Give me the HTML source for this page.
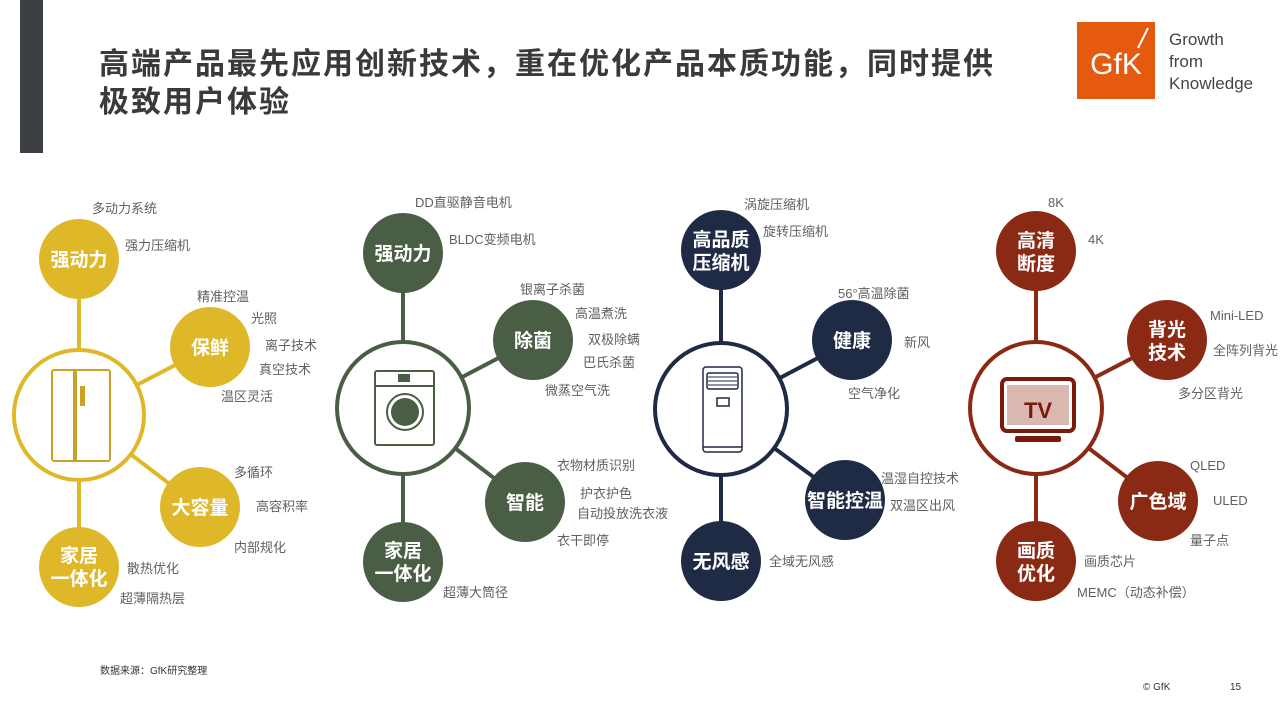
<!DOCTYPE html>
<html><head><meta charset="utf-8"><style>
body{margin:0;width:1280px;height:720px;overflow:hidden;background:#fff;font-family:"Liberation Sans","Noto Sans CJK SC",sans-serif;}
svg{position:absolute;left:0;top:0}
.n{font-weight:bold;fill:#fff;font-size:19px;text-anchor:middle}
.l{fill:#606060;font-size:13px}
</style></head><body>
<svg width="1280" height="720" viewBox="0 0 1280 720" font-family="Liberation Sans, Noto Sans CJK SC, sans-serif">
<rect x="20" y="0" width="23" height="153" fill="#3c3f44"/>
<text x="99" y="74" font-size="30" letter-spacing="2" font-weight="bold" fill="#3a3a3a">高端产品最先应用创新技术，重在优化产品本质功能，同时提供</text>
<text x="99" y="112" font-size="30" letter-spacing="2" font-weight="bold" fill="#3a3a3a">极致用户体验</text>
<!-- logo -->
<rect x="1077" y="22" width="78" height="77" fill="#E55A0E"/>
<text x="1116" y="74" font-size="30" fill="#fff" text-anchor="middle" font-family="Liberation Sans, sans-serif">GfK</text>
<line x1="1138" y1="48" x2="1148" y2="28" stroke="#fff" stroke-width="2"/>
<text x="1169" y="45" font-size="17" fill="#444">Growth</text>
<text x="1169" y="67" font-size="17" fill="#444">from</text>
<text x="1169" y="89" font-size="17" fill="#444">Knowledge</text>

<!-- Group 1 gold -->
<g stroke="#DFB82A" stroke-width="4" fill="none">
<line x1="79" y1="280" x2="79" y2="560"/>
<line x1="79" y1="415" x2="210" y2="347"/>
<line x1="79" y1="415" x2="200" y2="507"/>
<circle cx="79" cy="415" r="65" fill="#fff"/>
</g>
<g fill="#DFB82A"><circle cx="79" cy="259" r="40"/><circle cx="210" cy="347" r="40"/><circle cx="200" cy="507" r="40"/><circle cx="79" cy="567" r="40"/></g>
<g stroke="#C9A227" stroke-width="2" fill="none"><rect x="52" y="370" width="58" height="91" rx="2"/><line x1="74" y1="370" x2="74" y2="461"/><line x1="76" y1="370" x2="76" y2="461"/></g>
<rect x="80" y="386" width="5" height="20" fill="#C9A227"/>
<text class="n" x="79" y="266">强动力</text>
<text class="n" x="210" y="354">保鲜</text>
<text class="n" x="200" y="514">大容量</text>
<text class="n" x="79" y="562">家居</text><text class="n" x="79" y="585">一体化</text>
<g class="l"><text x="92" y="213">多动力系统</text><text x="125" y="250">强力压缩机</text>
<text x="197" y="301">精准控温</text><text x="251" y="323">光照</text><text x="265" y="350">离子技术</text><text x="259" y="374">真空技术</text><text x="221" y="401">温区灵活</text>
<text x="234" y="477">多循环</text><text x="256" y="511">高容积率</text><text x="234" y="552">内部规化</text>
<text x="127" y="573">散热优化</text><text x="120" y="603">超薄隔热层</text></g>

<!-- Group 2 green -->
<g stroke="#4A5E45" stroke-width="4" fill="none">
<line x1="403" y1="270" x2="403" y2="550"/>
<line x1="403" y1="408" x2="533" y2="340"/>
<line x1="403" y1="408" x2="525" y2="502"/>
<circle cx="403" cy="408" r="66" fill="#fff"/>
</g>
<g fill="#4A5E45"><circle cx="403" cy="253" r="40"/><circle cx="533" cy="340" r="40"/><circle cx="525" cy="502" r="40"/><circle cx="403" cy="562" r="40"/></g>
<g stroke="#4A5E45" stroke-width="2" fill="none"><rect x="375" y="371" width="59" height="74" rx="2"/><line x1="375" y1="386" x2="434" y2="386"/><circle cx="405" cy="412" r="18"/></g>
<circle cx="405" cy="412" r="14" fill="#4A5E45"/><rect x="398" y="374" width="12" height="8" fill="#4A5E45"/>
<text class="n" x="403" y="260">强动力</text>
<text class="n" x="533" y="347">除菌</text>
<text class="n" x="525" y="509">智能</text>
<text class="n" x="403" y="557">家居</text><text class="n" x="403" y="580">一体化</text>
<g class="l"><text x="415" y="207">DD直驱静音电机</text><text x="449" y="244">BLDC变频电机</text>
<text x="520" y="294">银离子杀菌</text><text x="575" y="318">高温煮洗</text><text x="588" y="344">双极除螨</text><text x="583" y="367">巴氏杀菌</text><text x="545" y="395">微蒸空气洗</text>
<text x="557" y="470">衣物材质识别</text><text x="580" y="498">护衣护色</text><text x="577" y="518">自动投放洗衣液</text><text x="557" y="545">衣干即停</text>
<text x="443" y="597">超薄大筒径</text></g>

<!-- Group 3 navy -->
<g stroke="#1F2A44" stroke-width="4" fill="none">
<line x1="721" y1="270" x2="721" y2="550"/>
<line x1="721" y1="409" x2="852" y2="340"/>
<line x1="721" y1="409" x2="845" y2="500"/>
<circle cx="721" cy="409" r="66" fill="#fff"/>
</g>
<g fill="#1F2A44"><circle cx="721" cy="250" r="40"/><circle cx="852" cy="340" r="40"/><circle cx="845" cy="500" r="40"/><circle cx="721" cy="561" r="40"/></g>
<g stroke="#1F2A44" stroke-width="1.5" fill="none"><rect x="703" y="367" width="39" height="85" rx="3"/><rect x="707" y="373" width="31" height="16" rx="2"/><rect x="717" y="398" width="12" height="8"/><line x1="703" y1="447" x2="742" y2="447"/></g>
<g stroke="#1F2A44" stroke-width="1"><line x1="708" y1="377" x2="737" y2="377"/><line x1="708" y1="381" x2="737" y2="381"/><line x1="708" y1="385" x2="737" y2="385"/></g>
<text class="n" x="721" y="246">高品质</text><text class="n" x="721" y="269">压缩机</text>
<text class="n" x="852" y="347">健康</text>
<text class="n" x="845" y="507">智能控温</text>
<text class="n" x="721" y="568">无风感</text>
<g class="l"><text x="744" y="209">涡旋压缩机</text><text x="763" y="236">旋转压缩机</text>
<text x="838" y="298">56°高温除菌</text><text x="904" y="347">新风</text><text x="848" y="398">空气净化</text>
<text x="881" y="483">温湿自控技术</text><text x="890" y="510">双温区出风</text>
<text x="769" y="566">全域无风感</text></g>

<!-- Group 4 red -->
<g stroke="#8B2A14" stroke-width="4" fill="none">
<line x1="1036" y1="270" x2="1036" y2="550"/>
<line x1="1036" y1="408" x2="1167" y2="340"/>
<line x1="1036" y1="408" x2="1158" y2="501"/>
<circle cx="1036" cy="408" r="66" fill="#fff"/>
</g>
<g fill="#8B2A14"><circle cx="1036" cy="251" r="40"/><circle cx="1167" cy="340" r="40"/><circle cx="1158" cy="501" r="40"/><circle cx="1036" cy="561" r="40"/></g>
<rect x="1002" y="379" width="72" height="52" rx="5" fill="none" stroke="#7a1a0a" stroke-width="4"/>
<rect x="1007" y="385" width="62" height="40" fill="#D9B8B0"/>
<rect x="1015" y="436" width="46" height="6" rx="2" fill="#7a1a0a"/>
<text x="1038" y="418" font-size="22" font-weight="bold" fill="#7a1a0a" text-anchor="middle">TV</text>
<text class="n" x="1036" y="247">高清</text><text class="n" x="1036" y="270">断度</text>
<text class="n" x="1167" y="336">背光</text><text class="n" x="1167" y="359">技术</text>
<text class="n" x="1158" y="508">广色域</text>
<text class="n" x="1036" y="557">画质</text><text class="n" x="1036" y="580">优化</text>
<g class="l"><text x="1048" y="207">8K</text><text x="1088" y="244">4K</text>
<text x="1210" y="320">Mini-LED</text><text x="1213" y="355">全阵列背光</text><text x="1178" y="398">多分区背光</text>
<text x="1190" y="470">QLED</text><text x="1213" y="505">ULED</text><text x="1190" y="545">量子点</text>
<text x="1084" y="566">画质芯片</text><text x="1077" y="597">MEMC（动态补偿）</text></g>

<text x="100" y="674" font-size="10" fill="#333">数据来源：GfK研究整理</text>
<text x="1143" y="690" font-size="10" fill="#333">© GfK</text>
<text x="1230" y="690" font-size="10" fill="#333">15</text>
</svg>
</body></html>
